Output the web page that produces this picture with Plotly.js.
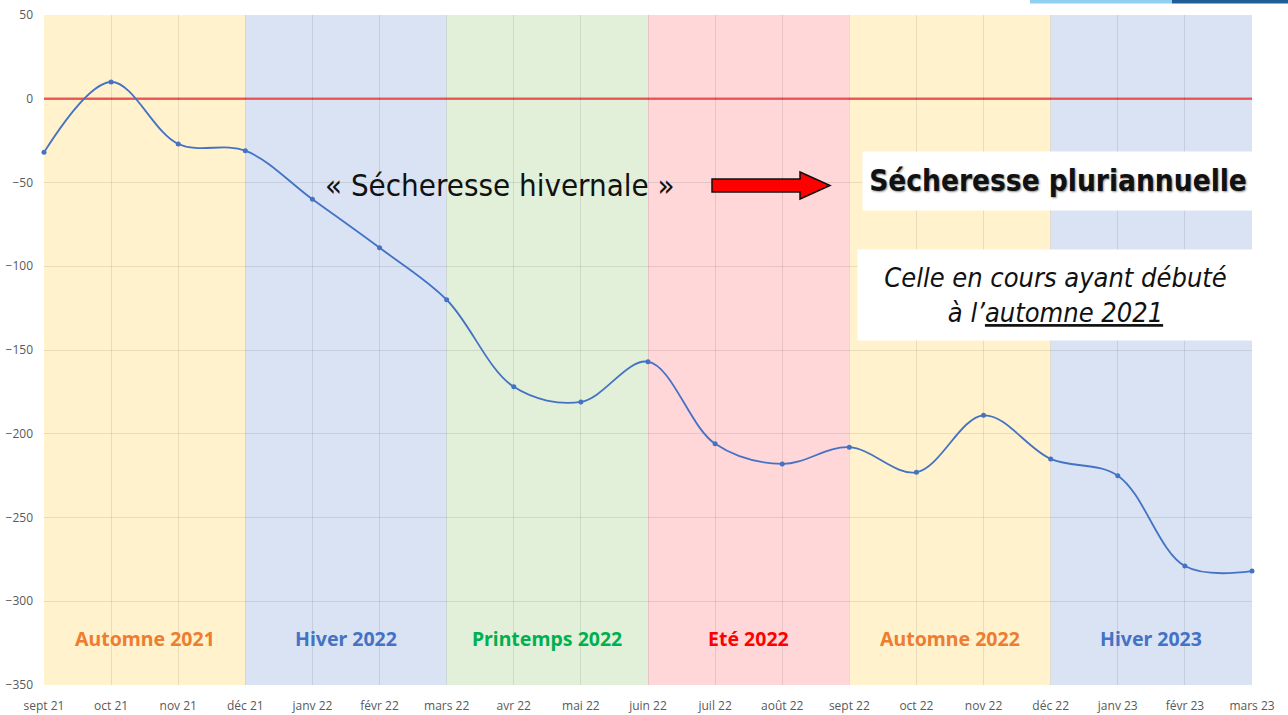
<!DOCTYPE html>
<html>
<head>
<meta charset="utf-8">
<script src="https://cdn.plot.ly/plotly-3.0.1.min.js"></script>
<style>html,body{margin:0;padding:0;background:#fff;}#chart{width:1288px;height:715px;}</style>
</head>
<body>
<div id="chart"></div>
<script>
// ---- data ----
const months = ["sept 21","oct 21","nov 21","déc 21","janv 22","févr 22","mars 22","avr 22","mai 22","juin 22","juil 22","août 22","sept 22","oct 22","nov 22","déc 22","janv 23","févr 23","mars 23"];
const values = [-32, 10, -27, -31, -60, -89, -120, -172, -181, -157, -206, -218, -208, -223, -189, -215, -225, -279, -282];
const seasonNames = ["Automne 2021","Hiver 2022","Printemps 2022","Eté 2022","Automne 2022","Hiver 2023"];
const seasonStart = [0, 3, 6, 9, 12, 15];
const seasonEnd   = [3, 6, 9, 12, 15, 18];
const yTicks = [50, 0, -50, -100, -150, -200, -250, -300, -350];

// ---- styles ----
const seasonFill = ["#FFF2CC","#DAE3F3","#E2F0D9","#FFD7D9","#FFF2CC","#DAE3F3"];
const seasonTextColor = ["#ED7D31","#4472C4","#00B050","#FF0000","#ED7D31","#4472C4"];

const W = 1288, H = 715, M = {l:44, r:36, t:15, b:30};
const pw = W - M.l - M.r, ph = H - M.t - M.b;
const px = x => (x - M.l) / pw;
const py = y => (H - M.b - y) / ph;

const shapes = [];
seasonNames.forEach((n, i) => {
  shapes.push({type:'rect', xref:'x', yref:'paper', x0: seasonStart[i], x1: seasonEnd[i], y0:0, y1:1,
    fillcolor: seasonFill[i], line:{width:0}, layer:'below'});
});
// zero reference line
shapes.push({type:'line', xref:'paper', yref:'y', x0:0, x1:1, y0:0, y1:0, line:{color:'#FF5B5B', width:2.5}, layer:'between'});
// arrow
const ax = [712, 800, 800, 830, 800, 800, 712];
const ay = [179, 179, 172, 185.5, 199, 192, 192];
let path = '';
ax.forEach((v, i) => { path += (i ? ' L ' : 'M ') + px(v).toFixed(5) + ',' + py(ay[i]).toFixed(5); });
path += ' Z';
shapes.push({type:'path', xref:'paper', yref:'paper', path: path, fillcolor:'#FF0000', line:{color:'#111', width:1.5}, layer:'above'});
// top-right decorative bar
shapes.push({type:'rect', xref:'paper', yref:'paper', x0:px(1030), x1:px(1172), y0:py(3.5), y1:py(0), fillcolor:'#8FD0F0', line:{width:0}});
shapes.push({type:'rect', xref:'paper', yref:'paper', x0:px(1172), x1:px(1288), y0:py(3.5), y1:py(0), fillcolor:'#1F5E96', line:{width:0}});

const annotations = [];
seasonNames.forEach((n, i) => {
  annotations.push({x:(seasonStart[i] + seasonEnd[i]) / 2, y:-322, xref:'x', yref:'y', text:'<b>' + n + '</b>',
    showarrow:false, xanchor:'center', yanchor:'middle', font:{family:'Noto Sans, Open Sans, sans-serif', size:19.5, color: seasonTextColor[i]}});
});
annotations.push({xref:'paper', yref:'paper', x:px(500), y:py(185), xanchor:'center', yanchor:'middle', text:'« Sécheresse hivernale »', showarrow:false,
  font:{family:'DejaVu Sans Condensed, DejaVu Sans, sans-serif', size:31, color:'#111'}});
annotations.push({xref:'paper', yref:'paper', x:px(1058), y:py(181), xanchor:'center', yanchor:'middle', text:'<b>Sécheresse pluriannuelle</b>', showarrow:false,
  width:390, height:58, bgcolor:'#ffffff', borderpad:0,
  font:{family:'DejaVu Sans Condensed, DejaVu Sans, sans-serif', size:29.5, color:'#111', shadow:'1px 1px 2px rgba(0,0,0,0.45)'}});
annotations.push({xref:'paper', yref:'paper', x:px(1055.5), y:py(295), xanchor:'center', yanchor:'middle', text:'<i>Celle en cours ayant débuté<br>à l’<span style="text-decoration:underline">automne 2021</span></i>', showarrow:false,
  width:395, height:90, bgcolor:'#ffffff', borderpad:0,
  font:{family:'DejaVu Sans Condensed, DejaVu Sans, sans-serif', size:27, color:'#111'}});

const trace = {x: months.map((m, i) => i), y: values, type:'scatter', mode:'lines+markers',
  line:{color:'#4472C4', width:1.8, shape:'spline', smoothing:1},
  marker:{color:'#4472C4', size:5}, cliponaxis:false, hoverinfo:'skip'};

const layout = {
  width: W, height: H, margin: M, paper_bgcolor:'#fff', plot_bgcolor:'rgba(0,0,0,0)', showlegend:false,
  xaxis:{range:[0, 18], tickvals: months.map((m, i) => i), ticktext: months, showgrid:true, gridcolor:'rgba(0,0,0,0.09)', gridwidth:1,
    zeroline:false, showline:false, ticks:'', tickfont:{family:'Open Sans, sans-serif', size:12, color:'#595959'}, ticklabelstandoff:12},
  yaxis:{range:[-350, 50], tickvals: yTicks, showgrid:true, gridcolor:'rgba(0,0,0,0.09)', gridwidth:1, zeroline:false, showline:false,
    ticks:'', tickfont:{family:'Open Sans, sans-serif', size:12, color:'#595959'}, ticklabelstandoff:10},
  shapes: shapes, annotations: annotations
};
Plotly.newPlot('chart', [trace], layout, {displayModeBar:false, staticPlot:true});
</script>
</body>
</html>
